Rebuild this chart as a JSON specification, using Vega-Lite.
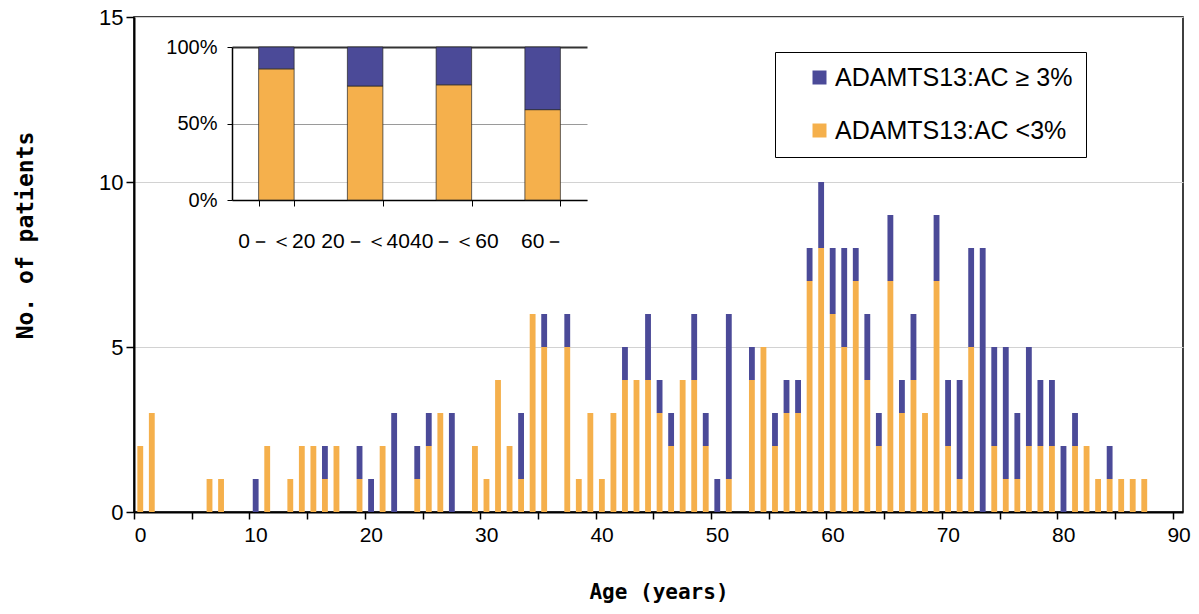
{
  "$schema": "https://vega.github.io/schema/vega-lite/v6.json",
  "width": 1049,
  "height": 495,
  "autosize": "none",
  "padding": {"left": 134, "top": 17, "right": 16, "bottom": 102},
  "background": "white",
  "config": {
    "view": {"stroke": "black", "strokeWidth": 1.5},
    "font": "Liberation Sans"
  },
  "datasets": {
    "main": [
      {"age": 0, "group": "ADAMTS13:AC <3%", "n": 2},
      {"age": 1, "group": "ADAMTS13:AC <3%", "n": 3},
      {"age": 6, "group": "ADAMTS13:AC <3%", "n": 1},
      {"age": 7, "group": "ADAMTS13:AC <3%", "n": 1},
      {"age": 10, "group": "ADAMTS13:AC ≥ 3%", "n": 1},
      {"age": 11, "group": "ADAMTS13:AC <3%", "n": 2},
      {"age": 13, "group": "ADAMTS13:AC <3%", "n": 1},
      {"age": 14, "group": "ADAMTS13:AC <3%", "n": 2},
      {"age": 15, "group": "ADAMTS13:AC <3%", "n": 2},
      {"age": 16, "group": "ADAMTS13:AC <3%", "n": 1},
      {"age": 16, "group": "ADAMTS13:AC ≥ 3%", "n": 1},
      {"age": 17, "group": "ADAMTS13:AC <3%", "n": 2},
      {"age": 19, "group": "ADAMTS13:AC <3%", "n": 1},
      {"age": 19, "group": "ADAMTS13:AC ≥ 3%", "n": 1},
      {"age": 20, "group": "ADAMTS13:AC ≥ 3%", "n": 1},
      {"age": 21, "group": "ADAMTS13:AC <3%", "n": 2},
      {"age": 22, "group": "ADAMTS13:AC ≥ 3%", "n": 3},
      {"age": 24, "group": "ADAMTS13:AC <3%", "n": 1},
      {"age": 24, "group": "ADAMTS13:AC ≥ 3%", "n": 1},
      {"age": 25, "group": "ADAMTS13:AC <3%", "n": 2},
      {"age": 25, "group": "ADAMTS13:AC ≥ 3%", "n": 1},
      {"age": 26, "group": "ADAMTS13:AC <3%", "n": 3},
      {"age": 27, "group": "ADAMTS13:AC ≥ 3%", "n": 3},
      {"age": 29, "group": "ADAMTS13:AC <3%", "n": 2},
      {"age": 30, "group": "ADAMTS13:AC <3%", "n": 1},
      {"age": 31, "group": "ADAMTS13:AC <3%", "n": 4},
      {"age": 32, "group": "ADAMTS13:AC <3%", "n": 2},
      {"age": 33, "group": "ADAMTS13:AC <3%", "n": 1},
      {"age": 33, "group": "ADAMTS13:AC ≥ 3%", "n": 2},
      {"age": 34, "group": "ADAMTS13:AC <3%", "n": 6},
      {"age": 35, "group": "ADAMTS13:AC <3%", "n": 5},
      {"age": 35, "group": "ADAMTS13:AC ≥ 3%", "n": 1},
      {"age": 37, "group": "ADAMTS13:AC <3%", "n": 5},
      {"age": 37, "group": "ADAMTS13:AC ≥ 3%", "n": 1},
      {"age": 38, "group": "ADAMTS13:AC <3%", "n": 1},
      {"age": 39, "group": "ADAMTS13:AC <3%", "n": 3},
      {"age": 40, "group": "ADAMTS13:AC <3%", "n": 1},
      {"age": 41, "group": "ADAMTS13:AC <3%", "n": 3},
      {"age": 42, "group": "ADAMTS13:AC <3%", "n": 4},
      {"age": 42, "group": "ADAMTS13:AC ≥ 3%", "n": 1},
      {"age": 43, "group": "ADAMTS13:AC <3%", "n": 4},
      {"age": 44, "group": "ADAMTS13:AC <3%", "n": 4},
      {"age": 44, "group": "ADAMTS13:AC ≥ 3%", "n": 2},
      {"age": 45, "group": "ADAMTS13:AC <3%", "n": 3},
      {"age": 45, "group": "ADAMTS13:AC ≥ 3%", "n": 1},
      {"age": 46, "group": "ADAMTS13:AC <3%", "n": 2},
      {"age": 46, "group": "ADAMTS13:AC ≥ 3%", "n": 1},
      {"age": 47, "group": "ADAMTS13:AC <3%", "n": 4},
      {"age": 48, "group": "ADAMTS13:AC <3%", "n": 4},
      {"age": 48, "group": "ADAMTS13:AC ≥ 3%", "n": 2},
      {"age": 49, "group": "ADAMTS13:AC <3%", "n": 2},
      {"age": 49, "group": "ADAMTS13:AC ≥ 3%", "n": 1},
      {"age": 50, "group": "ADAMTS13:AC ≥ 3%", "n": 1},
      {"age": 51, "group": "ADAMTS13:AC <3%", "n": 1},
      {"age": 51, "group": "ADAMTS13:AC ≥ 3%", "n": 5},
      {"age": 53, "group": "ADAMTS13:AC <3%", "n": 4},
      {"age": 53, "group": "ADAMTS13:AC ≥ 3%", "n": 1},
      {"age": 54, "group": "ADAMTS13:AC <3%", "n": 5},
      {"age": 55, "group": "ADAMTS13:AC <3%", "n": 2},
      {"age": 55, "group": "ADAMTS13:AC ≥ 3%", "n": 1},
      {"age": 56, "group": "ADAMTS13:AC <3%", "n": 3},
      {"age": 56, "group": "ADAMTS13:AC ≥ 3%", "n": 1},
      {"age": 57, "group": "ADAMTS13:AC <3%", "n": 3},
      {"age": 57, "group": "ADAMTS13:AC ≥ 3%", "n": 1},
      {"age": 58, "group": "ADAMTS13:AC <3%", "n": 7},
      {"age": 58, "group": "ADAMTS13:AC ≥ 3%", "n": 1},
      {"age": 59, "group": "ADAMTS13:AC <3%", "n": 8},
      {"age": 59, "group": "ADAMTS13:AC ≥ 3%", "n": 2},
      {"age": 60, "group": "ADAMTS13:AC <3%", "n": 6},
      {"age": 60, "group": "ADAMTS13:AC ≥ 3%", "n": 2},
      {"age": 61, "group": "ADAMTS13:AC <3%", "n": 5},
      {"age": 61, "group": "ADAMTS13:AC ≥ 3%", "n": 3},
      {"age": 62, "group": "ADAMTS13:AC <3%", "n": 7},
      {"age": 62, "group": "ADAMTS13:AC ≥ 3%", "n": 1},
      {"age": 63, "group": "ADAMTS13:AC <3%", "n": 4},
      {"age": 63, "group": "ADAMTS13:AC ≥ 3%", "n": 2},
      {"age": 64, "group": "ADAMTS13:AC <3%", "n": 2},
      {"age": 64, "group": "ADAMTS13:AC ≥ 3%", "n": 1},
      {"age": 65, "group": "ADAMTS13:AC <3%", "n": 7},
      {"age": 65, "group": "ADAMTS13:AC ≥ 3%", "n": 2},
      {"age": 66, "group": "ADAMTS13:AC <3%", "n": 3},
      {"age": 66, "group": "ADAMTS13:AC ≥ 3%", "n": 1},
      {"age": 67, "group": "ADAMTS13:AC <3%", "n": 4},
      {"age": 67, "group": "ADAMTS13:AC ≥ 3%", "n": 2},
      {"age": 68, "group": "ADAMTS13:AC <3%", "n": 3},
      {"age": 69, "group": "ADAMTS13:AC <3%", "n": 7},
      {"age": 69, "group": "ADAMTS13:AC ≥ 3%", "n": 2},
      {"age": 70, "group": "ADAMTS13:AC <3%", "n": 2},
      {"age": 70, "group": "ADAMTS13:AC ≥ 3%", "n": 2},
      {"age": 71, "group": "ADAMTS13:AC <3%", "n": 1},
      {"age": 71, "group": "ADAMTS13:AC ≥ 3%", "n": 3},
      {"age": 72, "group": "ADAMTS13:AC <3%", "n": 5},
      {"age": 72, "group": "ADAMTS13:AC ≥ 3%", "n": 3},
      {"age": 73, "group": "ADAMTS13:AC ≥ 3%", "n": 8},
      {"age": 74, "group": "ADAMTS13:AC <3%", "n": 2},
      {"age": 74, "group": "ADAMTS13:AC ≥ 3%", "n": 3},
      {"age": 75, "group": "ADAMTS13:AC <3%", "n": 1},
      {"age": 75, "group": "ADAMTS13:AC ≥ 3%", "n": 4},
      {"age": 76, "group": "ADAMTS13:AC <3%", "n": 1},
      {"age": 76, "group": "ADAMTS13:AC ≥ 3%", "n": 2},
      {"age": 77, "group": "ADAMTS13:AC <3%", "n": 2},
      {"age": 77, "group": "ADAMTS13:AC ≥ 3%", "n": 3},
      {"age": 78, "group": "ADAMTS13:AC <3%", "n": 2},
      {"age": 78, "group": "ADAMTS13:AC ≥ 3%", "n": 2},
      {"age": 79, "group": "ADAMTS13:AC <3%", "n": 2},
      {"age": 79, "group": "ADAMTS13:AC ≥ 3%", "n": 2},
      {"age": 80, "group": "ADAMTS13:AC ≥ 3%", "n": 2},
      {"age": 81, "group": "ADAMTS13:AC <3%", "n": 2},
      {"age": 81, "group": "ADAMTS13:AC ≥ 3%", "n": 1},
      {"age": 82, "group": "ADAMTS13:AC <3%", "n": 2},
      {"age": 83, "group": "ADAMTS13:AC <3%", "n": 1},
      {"age": 84, "group": "ADAMTS13:AC <3%", "n": 1},
      {"age": 84, "group": "ADAMTS13:AC ≥ 3%", "n": 1},
      {"age": 85, "group": "ADAMTS13:AC <3%", "n": 1},
      {"age": 86, "group": "ADAMTS13:AC <3%", "n": 1},
      {"age": 87, "group": "ADAMTS13:AC <3%", "n": 1}
    ],
    "inset": [
      {"range": "0－＜20", "group": "ADAMTS13:AC <3%", "n": 18},
      {"range": "0－＜20", "group": "ADAMTS13:AC ≥ 3%", "n": 3},
      {"range": "20－＜40", "group": "ADAMTS13:AC <3%", "n": 38},
      {"range": "20－＜40", "group": "ADAMTS13:AC ≥ 3%", "n": 13},
      {"range": "40－＜60", "group": "ADAMTS13:AC <3%", "n": 64},
      {"range": "40－＜60", "group": "ADAMTS13:AC ≥ 3%", "n": 21},
      {"range": "60－", "group": "ADAMTS13:AC <3%", "n": 75},
      {"range": "60－", "group": "ADAMTS13:AC ≥ 3%", "n": 52}
    ]
  },
  "layer": [
    {
      "data": {"name": "main"},
      "mark": {"type": "bar", "binSpacing": 5.7},
      "encoding": {
        "x": {
          "field": "age",
          "type": "quantitative",
          "bin": {"step": 1, "extent": [0, 91]},
          "scale": {"domain": [0, 90.9], "nice": false, "zero": false},
          "axis": {
            "title": "Age (years)",
            "orient": "bottom",
            "values": [0, 5, 10, 15, 20, 25, 30, 35, 40, 45, 50, 55, 60, 65, 70, 75, 80, 85, 90],
            "labelExpr": "datum.value % 10 === 0 ? datum.label : ''",
            "format": "d",
            "grid": false,
            "domainColor": "black",
            "domainWidth": 2,
            "tickColor": "black",
            "tickSize": 7,
            "tickWidth": 1.5,
            "labelFont": "Liberation Sans",
            "labelFontSize": 21,
            "labelColor": "black",
            "labelPadding": 5,
            "labelOffset": 6,
            "labelFlush": false,
            "labelOverlap": false,
            "titleFont": "DejaVu Sans Mono",
            "titleFontSize": 21,
            "titleFontWeight": "bold",
            "titleColor": "black",
            "titleY": 69
          }
        },
        "y": {
          "aggregate": "sum",
          "field": "n",
          "type": "quantitative",
          "scale": {"domain": [0, 15], "nice": false},
          "axis": {
            "title": "No. of patients",
            "orient": "left",
            "values": [0, 5, 10, 15],
            "grid": true,
            "gridColor": "#d2d2d2",
            "gridWidth": 1,
            "domainColor": "black",
            "domainWidth": 2,
            "tickColor": "black",
            "tickSize": 8,
            "tickWidth": 1.5,
            "labelFont": "Liberation Sans",
            "labelFontSize": 22,
            "labelColor": "black",
            "labelPadding": 3,
            "titleFont": "DejaVu Sans Mono",
            "titleFontSize": 23,
            "titleFontWeight": "bold",
            "titleColor": "black",
            "titleX": -97,
            "titleY": 218
          }
        },
        "color": {
          "field": "group",
          "type": "nominal",
          "scale": {
            "domain": ["ADAMTS13:AC ≥ 3%", "ADAMTS13:AC <3%"],
            "range": ["#4b4a98", "#f5b04c"]
          },
          "legend": {
            "title": null,
            "orient": "none",
            "legendX": 641,
            "legendY": 35,
            "labelFont": "Liberation Sans",
            "labelFontSize": 25,
            "labelColor": "black",
            "labelLimit": 400,
            "labelOffset": 3,
            "symbolType": "square",
            "symbolSize": 196,
            "symbolStrokeWidth": 0,
            "symbolOffset": 19,
            "strokeColor": "black",
            "fillColor": "white",
            "padding": 13,
            "rowPadding": 27
          }
        },
        "order": {"field": "group", "sort": "ascending"}
      }
    },
    {
      "data": {"name": "inset"},
      "mark": {"type": "bar", "stroke": "#222222", "strokeWidth": 0.7},
      "encoding": {
        "x": {
          "field": "range",
          "type": "nominal",
          "sort": null,
          "scale": {"range": [98, 453], "paddingInner": 0.6, "paddingOuter": 0.3},
          "axis": {
            "title": null,
            "orient": "bottom",
            "offset": -312,
            "tickBand": "extent",
            "labelAngle": 0,
            "domainColor": "black",
            "domainWidth": 1.5,
            "tickColor": "black",
            "tickSize": 6,
            "labelFont": "Liberation Sans",
            "labelFontSize": 21,
            "labelColor": "black",
            "labelPadding": 24,
            "labelOverlap": false,
            "grid": false
          }
        },
        "y": {
          "field": "n",
          "type": "quantitative",
          "stack": "normalize",
          "scale": {"range": [183, 30], "domain": [0, 1]},
          "axis": {
            "title": null,
            "orient": "left",
            "offset": -98,
            "values": [0, 0.5, 1],
            "format": ".0%",
            "grid": true,
            "gridColor": {"condition": {"test": "datum.value === 1", "value": "#333333"}, "value": "#9a9a9a"},
            "gridWidth": {"condition": {"test": "datum.value === 1", "value": 2}, "value": 1},
            "domainColor": "black",
            "domainWidth": 1.5,
            "tickColor": "black",
            "tickSize": 5,
            "labelFont": "Liberation Sans",
            "labelFontSize": 20,
            "labelColor": "black",
            "labelPadding": 10
          }
        },
        "color": {"field": "group", "type": "nominal"},
        "order": {"field": "group", "sort": "ascending"}
      }
    }
  ],
  "resolve": {
    "scale": {"x": "independent", "y": "independent"},
    "axis": {"x": "independent", "y": "independent"}
  }
}
